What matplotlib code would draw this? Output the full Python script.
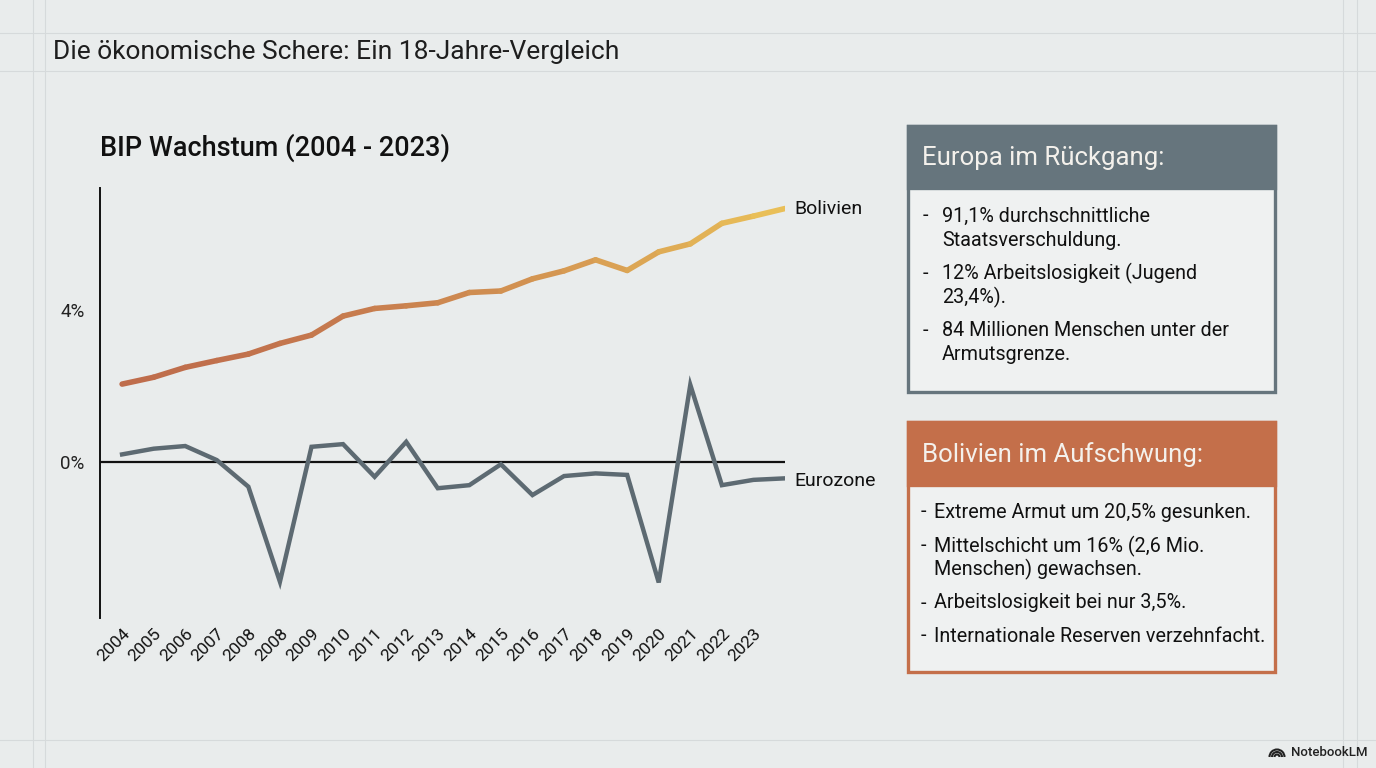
import matplotlib.pyplot as plt
import numpy as np
from matplotlib.patches import Rectangle, Arc
from matplotlib.collections import LineCollection
from matplotlib.colors import to_rgb

plt.rcParams['font.family'] = ['Roboto', 'DejaVu Sans']

# Daten
jahre = ['2004', '2005', '2006', '2007', '2008', '2008', '2009', '2010', '2011', '2012', '2013',
         '2014', '2015', '2016', '2017', '2018', '2019', '2020', '2021', '2022', '2023']
bolivien = [2.05, 2.23, 2.49, 2.67, 2.84, 3.12, 3.34, 3.84, 4.04, 4.11, 4.19,
            4.46, 4.50, 4.82, 5.03, 5.32, 5.04, 5.53, 5.74, 6.28, 6.47, 6.67]
eurozone = [0.20, 0.35, 0.42, 0.05, -0.65, -3.15, 0.40, 0.47, -0.39, 0.53, -0.69,
            -0.61, -0.06, -0.87, -0.37, -0.30, -0.34, -3.17, 2.03, -0.61, -0.47, -0.43]
y_ticks = [0, 4]
y_labels = ['0%', '4%']

europa_punkte = [['91,1% durchschnittliche', 'Staatsverschuldung.'],
                 ['12% Arbeitslosigkeit (Jugend', '23,4%).'],
                 ['84 Millionen Menschen unter der', 'Armutsgrenze.']]
bolivien_punkte = [['Extreme Armut um 20,5% gesunken.'],
                   ['Mittelschicht um 16% (2,6 Mio.', 'Menschen) gewachsen.'],
                   ['Arbeitslosigkeit bei nur 3,5%.'],
                   ['Internationale Reserven verzehnfacht.']]

W, H = 1376, 768
BG = '#e9ecec'
SLATE = '#66757d'
ORANGE = '#c46f4a'

fig = plt.figure(figsize=(W / 100, H / 100), dpi=100, facecolor=BG)


def px(x, y):
    return x / W, 1 - y / H


# dezente Rasterlinien im Hintergrund
for yy in [33, 71, 740]:
    fig.add_artist(plt.Line2D([0, 1], [1 - yy / H] * 2, color='#d6dadb', lw=0.8, zorder=0))
for xx in [33, 45, 1343, 1357]:
    fig.add_artist(plt.Line2D([xx / W] * 2, [0, 1], color='#d6dadb', lw=0.8, zorder=0))

# Titel
fig.text(*px(53, 52), 'Die ökonomische Schere: Ein 18-Jahre-Vergleich', fontsize=19,
         color='#1e1e1e', va='center', ha='left')
fig.text(*px(100, 148), 'BIP Wachstum (2004 - 2023)', fontsize=19.5, fontweight='medium',
         color='#111111', va='center', ha='left')

# Diagramm
ax = fig.add_axes([100 / W, (H - 618) / H, 685 / W, 430 / H])
ax.set_facecolor('none')
x = np.arange(len(bolivien))

# Bolivien mit Farbverlauf
c0, c1 = np.array(to_rgb('#bf6d4c')), np.array(to_rgb('#e9bf58'))
pts = np.column_stack([x, bolivien])
segs = np.stack([pts[:-1], pts[1:]], axis=1)
t = np.linspace(0, 1, len(segs)) ** 1.6
farben = [tuple(c0 + (c1 - c0) * ti) for ti in t]
lc = LineCollection(segs, colors=farben, linewidths=4.0, capstyle='round', joinstyle='round')
ax.add_collection(lc)

ax.plot(x, eurozone, color='#5d6a72', lw=3.2, solid_joinstyle='miter')
ax.axhline(0, color='#111111', lw=1.6, zorder=1)

ax.set_xlim(-0.70, 21)
ax.set_ylim(-4.105, 7.21)
ax.set_yticks(y_ticks)
ax.set_yticklabels(y_labels, fontsize=13.5, color='#222222')
ax.set_xticks(np.arange(len(jahre)))
ax.set_xticklabels(jahre, rotation=45, ha='right', rotation_mode='anchor', fontsize=12.5,
                   color='#111111')
ax.tick_params(length=0, pad=6)
ax.tick_params(axis='y', pad=11)
for s in ['top', 'right', 'bottom']:
    ax.spines[s].set_visible(False)
ax.spines['left'].set_color('#111111')
ax.spines['left'].set_linewidth(1.4)

ax.text(21.3, bolivien[-1], 'Bolivien', fontsize=14, va='center', ha='left', color='#111111')
ax.text(21.3, eurozone[-1] - 0.08, 'Eurozone', fontsize=14, va='center', ha='left',
        color='#111111')


# Infoboxen
def box(y0, y1, hy, farbe, titel, punkte, zeilen_y, dash_x, text_x, cont_x):
    x0, x1 = 908, 1275
    fig.add_artist(Rectangle(px(x0, y1), (x1 - x0) / W, (y1 - y0) / H, transform=fig.transFigure,
                             facecolor='#eff1f1', edgecolor=farbe, lw=2.4, zorder=2))
    fig.add_artist(Rectangle(px(x0, hy), (x1 - x0) / W, (hy - y0) / H, transform=fig.transFigure,
                             facecolor=farbe, edgecolor=farbe, lw=2.4, zorder=3))
    fig.text(*px(922, (y0 + hy) / 2 + 1), titel, fontsize=18.5, color='#f4f1ec', va='center',
             ha='left', zorder=4)
    i = 0
    for punkt in punkte:
        for j, zeile in enumerate(punkt):
            if j == 0:
                fig.text(*px(dash_x, zeilen_y[i]), '-', fontsize=14.2, va='center', ha='left',
                         color='#111111', zorder=4)
                fig.text(*px(text_x, zeilen_y[i]), zeile, fontsize=14.2, va='center', ha='left',
                         color='#111111', zorder=4)
            else:
                fig.text(*px(cont_x, zeilen_y[i]), zeile, fontsize=14.2, va='center', ha='left',
                         color='#111111', zorder=4)
            i += 1


box(126, 392, 188, SLATE, 'Europa im Rückgang:', europa_punkte,
    [216, 240, 273, 297, 331, 355], 923, 942, 942)
box(422, 672, 485, ORANGE, 'Bolivien im Aufschwung:', bolivien_punkte,
    [512, 546, 569, 603, 636], 921, 934, 934)

# NotebookLM-Logo
for r in [2.5, 5, 7.5]:
    fig.add_artist(Arc(px(1277, 757), 2 * r / W, 2 * r / H, theta1=0, theta2=180,
                       transform=fig.transFigure, color='#222222', lw=1.5))
fig.text(*px(1367, 752), 'NotebookLM', fontsize=9.5, fontweight='medium', ha='right',
         va='center', color='#222222')

fig.savefig('out.png', dpi=100, facecolor=BG)
